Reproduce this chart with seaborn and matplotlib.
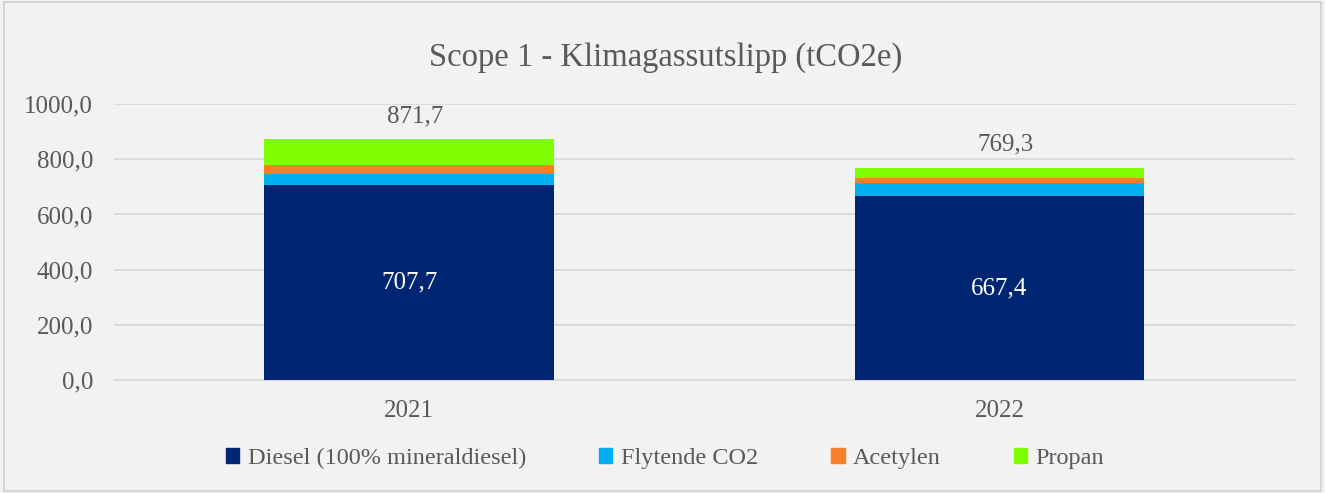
import matplotlib
matplotlib.use("Agg")
import matplotlib.pyplot as plt
import matplotlib.patches as mpatches
import seaborn as sns
import numpy as np
import pandas as pd

# Data
years = ["2021", "2022"]
diesel = [707.7, 667.4]
flytende_co2 = [39.0, 48.0]
acetylen = [33.0, 17.0]
propan = [92.0, 36.9]
totals = [871.7, 769.3]

series_names = ["Diesel (100% mineraldiesel)", "Flytende CO2", "Acetylen", "Propan"]
colors = ["#002673", "#00B0F0", "#F58025", "#80FF00"]

sns.set_theme(style="white")
plt.rcParams["font.family"] = ["Liberation Serif", "DejaVu Serif"]
text_color = "#595959"

fig = plt.figure(figsize=(13.25, 4.93), dpi=100, facecolor="#F2F2F2")
ax = fig.add_axes([0.086, 0.229, 0.891, 0.560])
ax.set_facecolor("#F2F2F2")

# stacked bars: draw cumulative heights from top layer down
stack = np.array([diesel, flytende_co2, acetylen, propan])
cum = stack.cumsum(axis=0)
for i in range(len(series_names) - 1, -1, -1):
    df = pd.DataFrame({"year": years, "value": cum[i]})
    sns.barplot(data=df, x="year", y="value", color=colors[i], width=0.49,
                saturation=1, linewidth=0, ax=ax, zorder=3)

ax.set_xlim(-0.5, 1.5)
ax.set_ylim(0, 1000)
ax.set_yticks(np.arange(0, 1001, 200))
ax.set_yticklabels([f"{v:.1f}".replace(".", ",") for v in np.arange(0, 1001, 200)])
ax.yaxis.grid(True, color="#D9D9D9", linewidth=1.3, zorder=0)
ax.set_axisbelow(True)
for s in ["top", "right", "left"]:
    ax.spines[s].set_visible(False)
ax.spines["bottom"].set_color("#D9D9D9")
ax.spines["bottom"].set_linewidth(1.3)
ax.tick_params(axis="both", length=0, labelsize=18, colors=text_color)
ax.tick_params(axis="y", pad=15)
ax.tick_params(axis="x", pad=14)
ax.set_xlabel("")
ax.set_ylabel("")

# labels
for i in range(len(years)):
    ax.text(i + 0.01, totals[i] + 85, f"{totals[i]:.1f}".replace(".", ","), ha="center",
            va="center", fontsize=18, color=text_color)
    ax.text(i, diesel[i] / 2, f"{diesel[i]:.1f}".replace(".", ","), ha="center",
            va="center", fontsize=18, color="white", zorder=4)

fig.text(0.502, 0.884, "Scope 1 - Klimagassutslipp (tCO2e)", ha="center", va="center",
         fontsize=23.5, color=text_color)

handles = [mpatches.Patch(color=c, label=n) for c, n in zip(colors, series_names)]
fig.legend(handles=handles, loc="center", bbox_to_anchor=(0.502, 0.07), ncol=4,
           frameon=False, fontsize=17.5, labelcolor=text_color, handlelength=0.55,
           handleheight=0.55, handletextpad=0.35, columnspacing=3.0)

# outer border
fig.patches.append(mpatches.Rectangle((0.003, 0.004), 0.994, 0.992, transform=fig.transFigure,
                                      fill=False, edgecolor="#D0D0D0", linewidth=1.2))

fig.savefig("out.png", dpi=100, facecolor=fig.get_facecolor())
